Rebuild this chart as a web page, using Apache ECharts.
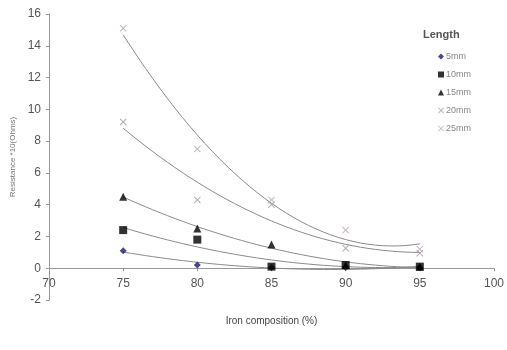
<!DOCTYPE html>
<html><head><meta charset="utf-8">
<script src="https://cdn.jsdelivr.net/npm/echarts@6/dist/echarts.min.js"></script>
<style>html,body{margin:0;padding:0;background:#fff}#c{width:507px;height:350px}</style>
</head><body><div id="c"></div>
<script>
const ironPct = [75, 80, 85, 90, 95];
const len5mm  = [1.1, 0.2, 0.05, 0.05, 0.05];
const len10mm = [2.4, 1.8, 0.1, 0.2, 0.1];
const len15mm = [4.5, 2.5, 1.5, 0.2, 0.1];
const len20mm = [9.2, 4.3, 4.0, 1.25, 0.95];
const len25mm = [15.1, 7.5, 4.3, 2.4, 1.2];
const seriesNames = ['5mm', '10mm', '15mm', '20mm', '25mm'];
const xTicks = [70, 75, 80, 85, 90, 95, 100];
const yTicks = [-2, 0, 2, 4, 6, 8, 10, 12, 14, 16];

const allData = [len5mm, len10mm, len15mm, len20mm, len25mm];
const crossPath = 'path://M0,1 L1,0 L5,4 L9,0 L10,1 L6,5 L10,9 L9,10 L5,6 L1,10 L0,9 L4,5 Z';
const symbols = ['diamond', 'rect', 'triangle', crossPath, crossPath];
const colors = ['#1a1a6e', '#000000', '#000000', '#9a90a8', '#b8a0a8'];
const sizes = [7, 8, 8, 7, 7];

// Quadratic least-squares trendline (like the spreadsheet polynomial trendline)
function quadFit(xs, ys) {
  const n = xs.length;
  let S = [0,0,0,0,0], T = [0,0,0];
  for (let i = 0; i < n; i++) {
    let p = 1;
    for (let k = 0; k < 5; k++) { S[k] += p; if (k < 3) T[k] += p * ys[i]; p *= xs[i]; }
  }
  const A = [[S[0],S[1],S[2],T[0]],[S[1],S[2],S[3],T[1]],[S[2],S[3],S[4],T[2]]];
  for (let i = 0; i < 3; i++) {
    let m = i; for (let r = i+1; r < 3; r++) if (Math.abs(A[r][i]) > Math.abs(A[m][i])) m = r;
    [A[i], A[m]] = [A[m], A[i]];
    for (let r = 0; r < 3; r++) if (r !== i) {
      const f = A[r][i] / A[i][i];
      for (let c = i; c < 4; c++) A[r][c] -= f * A[i][c];
    }
  }
  return [A[0][3]/A[0][0], A[1][3]/A[1][1], A[2][3]/A[2][2]];
}

const series = [];
allData.forEach((ys, i) => {
  series.push({
    name: seriesNames[i], type: 'scatter', symbol: symbols[i], symbolSize: sizes[i],
    itemStyle: { color: colors[i] }, z: 3,
    data: ironPct.map((x, j) => [x, ys[j]])
  });
});
allData.forEach((ys, i) => {
  const [a, b, c] = quadFit(ironPct, ys);
  const pts = [];
  for (let x = ironPct[0]; x <= ironPct[ironPct.length-1] + 1e-9; x += 0.5) pts.push([x, a + b*x + c*x*x]);
  series.push({
    name: 'trend' + i, type: 'line', data: pts, showSymbol: false, symbol: 'none', silent: true,
    lineStyle: { color: '#8a8a8a', width: 1 }, z: 2
  });
});

const chart = echarts.init(document.getElementById('c'), null, { renderer: 'canvas' });
chart.setOption({
  animation: false,
  textStyle: { fontFamily: 'Liberation Sans, Arial, sans-serif' },
  grid: { left: 49, right: 12, top: 14, bottom: 50, containLabel: false },
  title: {
    text: 'Length', left: 418, top: 24,
    textStyle: { fontSize: 11, fontWeight: 'bold', color: '#555', fontFamily: 'Liberation Sans, Arial, sans-serif' }
  },
  legend: {
    data: seriesNames, orient: 'vertical', left: 433, top: 47, itemGap: 9,
    itemWidth: 6, itemHeight: 6,
    textStyle: { fontSize: 9, color: '#888', padding: [0, 0, 0, -3] }
  },
  xAxis: {
    type: 'value', min: 70, max: 100, interval: 5,
    name: 'Iron composition (%)', nameLocation: 'middle', nameGap: 16,
    nameTextStyle: { fontSize: 10, color: '#444' },
    axisLine: { onZero: true, lineStyle: { color: '#999', width: 1 } },
    axisTick: { show: true, inside: false, length: 3, lineStyle: { color: '#999' } },
    axisLabel: { fontSize: 12, color: '#555', margin: -22 },
    splitLine: { show: false }
  },
  yAxis: {
    type: 'value', min: -2, max: 16, interval: 2,
    name: 'Resistance *10(Ohms)', nameLocation: 'middle', nameGap: 26, nameRotate: 90,
    nameTextStyle: { fontSize: 8, color: '#777' },
    axisLine: { show: true, onZero: false, lineStyle: { color: '#999', width: 1 } },
    axisTick: { show: true, length: 3, lineStyle: { color: '#999' } },
    axisLabel: { fontSize: 12, color: '#555', margin: 8 },
    splitLine: { show: false }
  },
  series: series
});
</script></body></html>
